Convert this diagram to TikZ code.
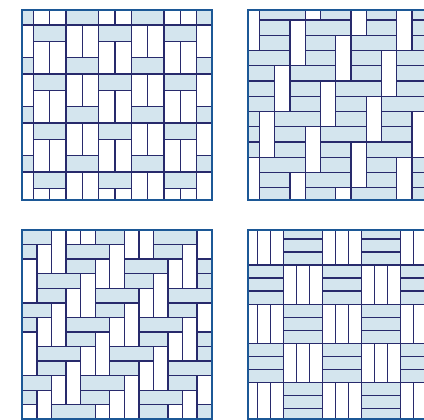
\documentclass[tikz,border=0pt]{standalone}
\usepackage{xcolor}
\usepackage{tikz}
\definecolor{azulclaro}{RGB}{212,229,238}
\definecolor{junta}{RGB}{40,42,108}
\definecolor{azulquadro}{RGB}{28,88,150}
\tikzset{
  deitado/.style={fill=azulclaro, draw=junta, line width=1.3pt},
  empe/.style={fill=white, draw=junta, line width=1.3pt},
  quadro/.style={draw=azulquadro, line width=2pt}
}

\begin{document}
\begin{tikzpicture}[x=1pt, y=-1pt]
  \useasboundingbox (0,0) rectangle (424,420);
  \clip (0,0) rectangle (424,420);
  % painel 1: colunas desencontradas
  \begin{scope}
    \clip (22.3,10) rectangle (211.7,200);
    \begin{scope}[shift={(33.3,25)}, x=16.34pt, y=-16.34pt]
      \foreach \k in {-1,...,3} {
        \foreach \m in {-1,...,4} {
          \draw[deitado] (4*\k,3*\m) rectangle (4*\k+2,3*\m+1);
          \draw[empe] (4*\k,3*\m+1) rectangle (4*\k+1,3*\m+3);
          \draw[empe] (4*\k+1,3*\m+1) rectangle (4*\k+2,3*\m+3);
          \draw[deitado] (4*\k+2,3*\m-1) rectangle (4*\k+4,3*\m);
          \draw[empe] (4*\k+2,3*\m) rectangle (4*\k+3,3*\m+2);
          \draw[empe] (4*\k+3,3*\m) rectangle (4*\k+4,3*\m+2);
        }
      }
    \end{scope}
  \end{scope}
  \draw[quadro] (22.3,10) rectangle (211.7,200);
  % painel 2: tijolos em pe na diagonal
  \begin{scope}
    \clip (247.8,10) rectangle (437.2,200);
    \begin{scope}[shift={(244.25,4.73)}, x=15.25pt, y=-15.25pt]
      \foreach \a in {-2,...,7} {
        \foreach \b in {-3,...,5} {
          \pgfmathtruncatemacro{\cx}{3*\a-\b}
          \pgfmathtruncatemacro{\cy}{\a+3*\b}
          \draw[empe] (\cx,\cy) rectangle (\cx+1,\cy+3);
          \draw[deitado] (\cx-2,\cy) rectangle (\cx,\cy+1);
          \draw[deitado] (\cx-2,\cy+1) rectangle (\cx,\cy+2);
          \draw[deitado] (\cx-3,\cy+2) rectangle (\cx,\cy+3);
        }
      }
    \end{scope}
  \end{scope}
  \draw[quadro] (247.8,10) rectangle (437.2,200);
  % painel 3: espinha
  \begin{scope}
    \clip (22.3,230) rectangle (211.7,419);
    \begin{scope}[shift={(22.3,230)}, x=14.57pt, y=-14.57pt]
      % pares deitados
      \foreach \n in {-2,...,4} {
        \foreach \m in {-8,...,8} {
          \pgfmathtruncatemacro{\cx}{ifthenelse(\n>1,4,3)-2*\m+2*\n}
          \pgfmathtruncatemacro{\cy}{ifthenelse(\n>1,0,1)+2*\m+3*\n}
          \draw[deitado] (\cx,\cy) rectangle (\cx+3,\cy+1);
          \draw[deitado] (\cx,\cy+1) rectangle (\cx+2,\cy+2);
        }
      }
      % pares em pe
      \foreach \n in {-2,...,3} {
        \foreach \m in {-8,...,8} {
          \pgfmathtruncatemacro{\cx}{ifthenelse(\n>0,6,5)-2*\m+2*\n}
          \pgfmathtruncatemacro{\cy}{ifthenelse(\n>0,1,2)+2*\m+3*\n}
          \draw[empe] (\cx,\cy) rectangle (\cx+1,\cy+2);
          \draw[empe] (\cx+1,\cy-1) rectangle (\cx+2,\cy+2);
        }
      }
    \end{scope}
  \end{scope}
  \draw[quadro] (22.3,230) rectangle (211.7,419);
  % painel 4: cesto
  \begin{scope}
    \clip (247.5,230) rectangle (437,419);
    \begin{scope}[shift={(244.15,225.85)}, x=13.05pt, y=-13.05pt]
      \foreach \i in {0,...,4} {
        \foreach \j in {0,...,4} {
          \pgfmathtruncatemacro{\pq}{mod(\i+\j,2)}
          \foreach \t in {0,1,2} {
            \ifnum\pq=0
              \draw[empe] (3*\i+\t,3*\j) rectangle (3*\i+\t+1,3*\j+3);
            \else
              \draw[deitado] (3*\i,3*\j+\t) rectangle (3*\i+3,3*\j+\t+1);
            \fi
          }
        }
      }
    \end{scope}
  \end{scope}
  \draw[quadro] (247.5,230) rectangle (437,419);
\end{tikzpicture}
\end{document}
